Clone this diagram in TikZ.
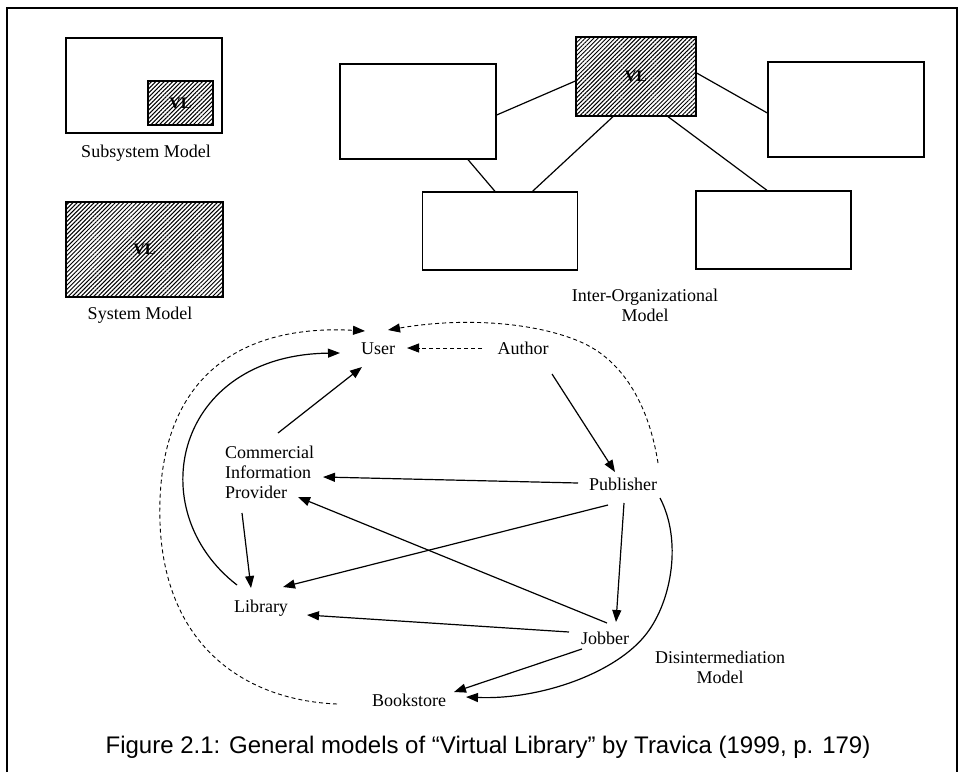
\documentclass[tikz,border=0pt]{standalone}
\usepackage{fontspec}
\setmainfont{Liberation Serif}
\newfontfamily\capfont{Liberation Sans}
\usetikzlibrary{arrows.meta,patterns.meta}

\begin{document}
\begin{tikzpicture}[x=1pt,y=-1pt,
  box/.style={draw, line width=1.3pt, inner sep=0pt},
  hatchbox/.style={box, pattern={Lines[angle=45,distance=3pt,line width=1pt]}},
  lbl/.style={inner sep=0pt, font=\fontsize{18}{20}\selectfont},
  vlt/.style={font=\fontsize{16}{16}\selectfont\bfseries},
  link/.style={line width=1.2pt},
  arr/.style={line width=1.2pt, -{Triangle[length=12pt,width=9pt]}},
  darr/.style={arr, line width=0.9pt, dash pattern=on 4pt off 3pt},
]
\useasboundingbox (0,0) rectangle (958,772);

% frame
\draw[line width=1.8pt] (7,772) -- (7,8) -- (957,8) -- (957,772);

% subsystem model
\node[box, minimum width=156pt, minimum height=95pt] (sub) at (144,85.5) {};
\node[hatchbox, vlt, minimum width=65pt, minimum height=44pt] (subvl) at (180.5,103) {VL};
\node[lbl, anchor=base] (sublbl) at (146,157) {Subsystem Model};

% system model
\node[hatchbox, vlt, minimum width=157pt, minimum height=95pt] (sys) at (144.5,249.5) {VL};
\node[lbl, anchor=base] (syslbl) at (140,319) {System Model};

% inter-organizational model
\node[hatchbox, vlt, minimum width=120pt, minimum height=79pt] (vlC) at (636,76.5) {VL};
\node[box, minimum width=156pt, minimum height=95pt] (ioL) at (418,111.5) {};
\node[box, minimum width=156pt, minimum height=95pt] (ioR) at (846,109.5) {};
\node[box, minimum width=155.5pt, minimum height=78pt] (ioBL) at (500,231) {};
\node[box, minimum width=155pt, minimum height=78pt] (ioBR) at (773.5,230) {};
\draw[link] ([shift={(0,4.5)}]vlC.west) -- ([shift={(0,3.5)}]ioL.east);
\draw[link] ([shift={(0,-3.5)}]vlC.east) -- ([shift={(0,3.5)}]ioR.west);
\draw[link] ([shift={(-23,0)}]vlC.south) -- ([shift={(32.5,0)}]ioBL.north);
\draw[link] ([shift={(32,0)}]vlC.south) -- ([shift={(-6.5,0)}]ioBR.north);
\draw[link] ([shift={(50,0)}]ioL.south) -- ([shift={(-5,0)}]ioBL.north);
\node[lbl, align=center, anchor=north] (iolbl) at (645,289) {Inter-Organizational\\Model};

% disintermediation model
\node[lbl, anchor=base] (user) at (378,354) {User};
\node[lbl, anchor=base] (author) at (523,354) {Author};
\node[lbl, align=left, anchor=north west] (comm) at (225,446) {Commercial\\Information\\Provider};
\node[lbl, anchor=base] (publisher) at (623,490) {Publisher};
\node[lbl, anchor=base] (library) at (261,612) {Library};
\node[lbl, anchor=base] (jobber) at (605,644) {Jobber};
\node[lbl, anchor=base] (bookstore) at (409,706) {Bookstore};
\node[lbl, align=center, anchor=north] (dislbl) at (720,651) {Disintermediation\\Model};

\draw[darr] ([shift={(-41,-6)}]author.base) -- ([shift={(29,-6)}]user.base);
\draw[arr] ([shift={(53,-13)}]comm.north west) -- ([shift={(-16,13)}]user.base);
\draw[arr] ([shift={(29,20)}]author.base) -- ([shift={(-8,-18)}]publisher.base);
\draw[arr] ([shift={(-45,-7)}]publisher.base) -- ([shift={(98,31)}]comm.north west);
\draw[arr] ([shift={(2,-21)}]jobber.base) -- ([shift={(73,51)}]comm.north west);
\draw[arr] ([shift={(-15,15)}]publisher.base) -- ([shift={(22,-25)}]library.base);
\draw[arr] ([shift={(17,67)}]comm.north west) -- ([shift={(-10,-24)}]library.base);
\draw[arr] ([shift={(1,13)}]publisher.base) -- ([shift={(11,-22)}]jobber.base);
\draw[arr] ([shift={(-36,-12)}]jobber.base) -- ([shift={(46,3)}]library.base);
\draw[arr] ([shift={(-23,5)}]jobber.base) -- ([shift={(45,-14)}]bookstore.base);

% curved links
\draw[arr] ([shift={(-24,-27)}]library.base) .. controls (140,510) and (175,355) .. ([shift={(-38,-1)}]user.base);
\draw[darr] ([shift={(-72,-2)}]bookstore.base) .. controls (240,700) and (155,640) .. (160,500)
  .. controls (165,360) and (260,325) .. ([shift={(-13,-23)}]user.base);
\draw[darr] ([shift={(35,-27)}]publisher.base) .. controls (648,400) and (620,360) .. (583,343)
  .. controls (542,324) and (470,316) .. ([shift={(10,-24)}]user.base);
\draw[arr] ([shift={(37,8)}]publisher.base) .. controls (682,540) and (672,600) .. (647,633)
  .. controls (617,673) and (540,700) .. ([shift={(57,-9)}]bookstore.base);

% caption
\node[inner sep=0pt, anchor=base, font=\capfont\fontsize{24}{24}\selectfont] (cap) at (488,753)
  {Figure 2.1: General models of “Virtual Library” by Travica (1999, p. 179)};
\end{tikzpicture}
\end{document}
